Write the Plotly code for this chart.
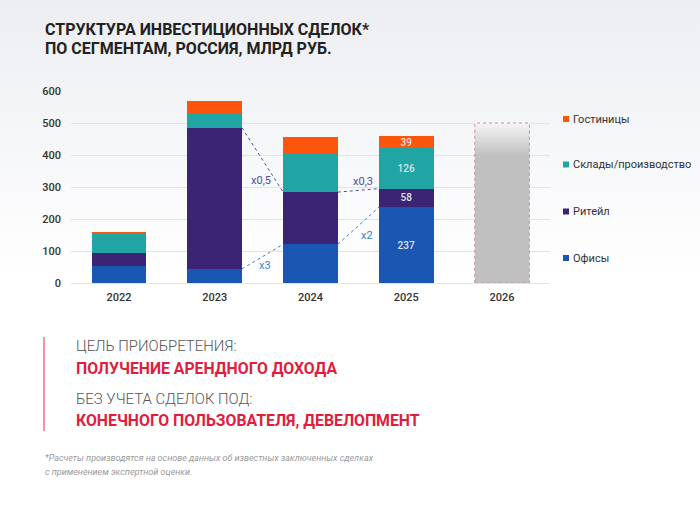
import plotly.graph_objects as go

# ---------------- data ----------------
years = ["2022", "2023", "2024", "2025"]
forecast_year = "2026"
forecast_total = 500
offices = [54, 44, 121, 237]
retail = [39, 441, 163, 58]
warehouses = [61, 45, 122, 126]
hotels = [5, 39, 49, 39]
series_names = ["Офисы", "Ритейл", "Склады/производство", "Гостиницы"]
series_colors = ["#1a57b3", "#3a2473", "#21a5a4", "#fd560c"]
labeled_year = "2025"
growth_labels = [("x3", "Офисы", "2023", "2024"), ("x0,5", "Ритейл", "2023", "2024"),
                 ("x2", "Офисы", "2024", "2025"), ("x0,3", "Ритейл", "2024", "2025")]
y_ticks = [0, 100, 200, 300, 400, 500, 600]

all_years = years + [forecast_year]
xs = list(range(len(years)))
x_fc = len(years)
BW = 0.57

W, H = 700, 508
PL, PR, PT, PB = 71, 550, 91, 283  # plot area in pixels


def px(x):
    return x / W


def py(y):
    return (H - y) / H


FONT = "Roboto, 'Noto Sans', sans-serif"
fig = go.Figure()

# page background gradient (own full-page subplot, drawn first)
fig.add_trace(go.Scatter(
    x=[0, 1, 1, 0, 0], y=[0, 0, 1, 1, 0], xaxis="x", yaxis="y",
    mode="lines", fill="toself", line=dict(width=0),
    fillgradient=dict(type="vertical", colorscale=[[0, "#ffffff"], [1, "#eceef2"]],
                      start=0.45, stop=1.0),
    showlegend=False, hoverinfo="skip",
))

series_vals = [offices, retail, warehouses, hotels]
for name, vals, col in zip(series_names, series_vals, series_colors):
    texts = [str(v) if y == labeled_year else "" for y, v in zip(years, vals)]
    fig.add_trace(go.Bar(
        x=xs, y=vals, name=name, xaxis="x2", yaxis="y2",
        marker=dict(color=col, line=dict(width=0)),
        width=BW, text=texts, textposition="inside", insidetextanchor="middle",
        textfont=dict(family=FONT, size=10, color="#dfe1ea", weight=500),
        showlegend=False, hoverinfo="skip",
    ))

# forecast bar (gradient + dotted outline)
x0f, x1f = x_fc - BW / 2, x_fc + BW / 2
fig.add_trace(go.Scatter(
    x=[x0f, x1f, x1f, x0f, x0f], y=[0, 0, forecast_total, forecast_total, 0],
    xaxis="x2", yaxis="y2", mode="lines", fill="toself",
    fillgradient=dict(type="vertical", colorscale=[[0, "#c0c0c0"], [1, "#f6f6f6"]],
                      start=forecast_total * 0.8, stop=forecast_total),
    line=dict(color="#c98e99", width=1, dash="dot"),
    showlegend=False, hoverinfo="skip",
))

# growth connectors
cum = {"Офисы": offices, "Ритейл": [o + r for o, r in zip(offices, retail)]}
conn_colors = {"Офисы": "#3f7fd0", "Ритейл": "#4f4c9e"}
label_pos = {"x3": (1.52, 54), "x0,5": (1.48, 320), "x2": (2.59, 150), "x0,3": (2.545, 317)}
for lab, ser, ya, yb in growth_labels:
    ia, ib = years.index(ya), years.index(yb)
    fig.add_trace(go.Scatter(
        x=[ia + BW / 2, ib - BW / 2], y=[cum[ser][ia], cum[ser][ib]],
        xaxis="x2", yaxis="y2",
        mode="lines", line=dict(color=conn_colors[ser], width=1, dash="dot"),
        showlegend=False, hoverinfo="skip",
    ))
    lx, ly = label_pos[lab]
    fig.add_annotation(x=lx, y=ly, xref="x2", yref="y2", text=lab, showarrow=False,
                       font=dict(family=FONT, size=11, color=conn_colors[ser]))

# legend (custom)
leg_rows = [258, 211.5, 164.5, 119]
shapes = []
for name, col, yy in zip(series_names, series_colors, leg_rows):
    shapes.append(dict(type="rect", xref="paper", yref="paper",
                       x0=px(563), x1=px(569), y0=py(yy + 3), y1=py(yy - 3),
                       fillcolor=col, line=dict(width=0)))
    fig.add_annotation(x=px(571), y=py(yy), xref="paper", yref="paper", text=name,
                       showarrow=False, xanchor="left", yanchor="middle",
                       font=dict(family=FONT, size=11, color="#333333"))

# red side bar
shapes.append(dict(type="line", xref="paper", yref="paper", x0=px(44), x1=px(44),
                   y0=py(337), y1=py(431), line=dict(color="#ef7088", width=1.5)))

# titles and texts
for t, yy in [("СТРУКТУРА ИНВЕСТИЦИОННЫХ СДЕЛОК*", 29.5), ("ПО СЕГМЕНТАМ, РОССИЯ, МЛРД РУБ.", 48.5)]:
    fig.add_annotation(x=px(43), y=py(yy), xref="paper", yref="paper", text=t,
                       showarrow=False, xanchor="left", yanchor="middle",
                       font=dict(family=FONT, size=16, color="#222222", weight="bold"))

texts_block = [
    ("ЦЕЛЬ ПРИОБРЕТЕНИЯ:", 346, "#555555", 300, 14.9),
    ("ПОЛУЧЕНИЕ АРЕНДНОГО ДОХОДА", 368, "#e11d3d", "bold", 15.8),
    ("БЕЗ УЧЕТА СДЕЛОК ПОД:", 399, "#555555", 300, 14.9),
    ("КОНЕЧНОГО ПОЛЬЗОВАТЕЛЯ, ДЕВЕЛОПМЕНТ", 420.5, "#e11d3d", "bold", 15.8),
]
for t, yy, col, wt, sz in texts_block:
    fig.add_annotation(x=px(74), y=py(yy), xref="paper", yref="paper", text=t,
                       showarrow=False, xanchor="left", yanchor="middle",
                       font=dict(family=FONT, size=sz, color=col, weight=wt))

foot = ["*Расчеты производятся на основе данных об известных заключенных сделках",
        "с применением экспертной оценки."]
for t, yy in zip(foot, [458, 472]):
    fig.add_annotation(x=px(43), y=py(yy), xref="paper", yref="paper", text=t,
                       showarrow=False, xanchor="left", yanchor="middle",
                       font=dict(family=FONT, size=9, color="#9a9a9a", style="italic"))

fig.update_layout(
    template="none",
    width=W, height=H, margin=dict(l=0, r=0, t=0, b=0, pad=0, autoexpand=False),
    paper_bgcolor="#ffffff", plot_bgcolor="rgba(0,0,0,0)",
    barmode="stack", showlegend=False, shapes=shapes,
    uniformtext=dict(minsize=10, mode="show"),
    xaxis=dict(domain=[0, 1], range=[0, 1], visible=False, fixedrange=True, automargin=False),
    yaxis=dict(domain=[0, 1], range=[0, 1], visible=False, fixedrange=True, automargin=False),
    xaxis2=dict(domain=[px(PL), px(PR)], anchor="y2", automargin=False,
                range=[-0.5, len(all_years) - 0.5], tickvals=list(range(len(all_years))),
                ticktext=all_years, showgrid=False, zeroline=False, showline=False,
                ticks="", ticklabelstandoff=6,
                tickfont=dict(family=FONT, size=11, color="#333333", weight=500)),
    yaxis2=dict(domain=[py(PB), py(PT)], anchor="x2", automargin=False,
                range=[0, 600], tickvals=y_ticks, showgrid=True, gridcolor="#e3e3e3",
                gridwidth=1, zeroline=True, zerolinecolor="#e3e3e3", zerolinewidth=1,
                showline=False, ticks="", ticklabelstandoff=9,
                tickfont=dict(family=FONT, size=11, color="#333333", weight=500)),
)

fig.write_html("out.html")
